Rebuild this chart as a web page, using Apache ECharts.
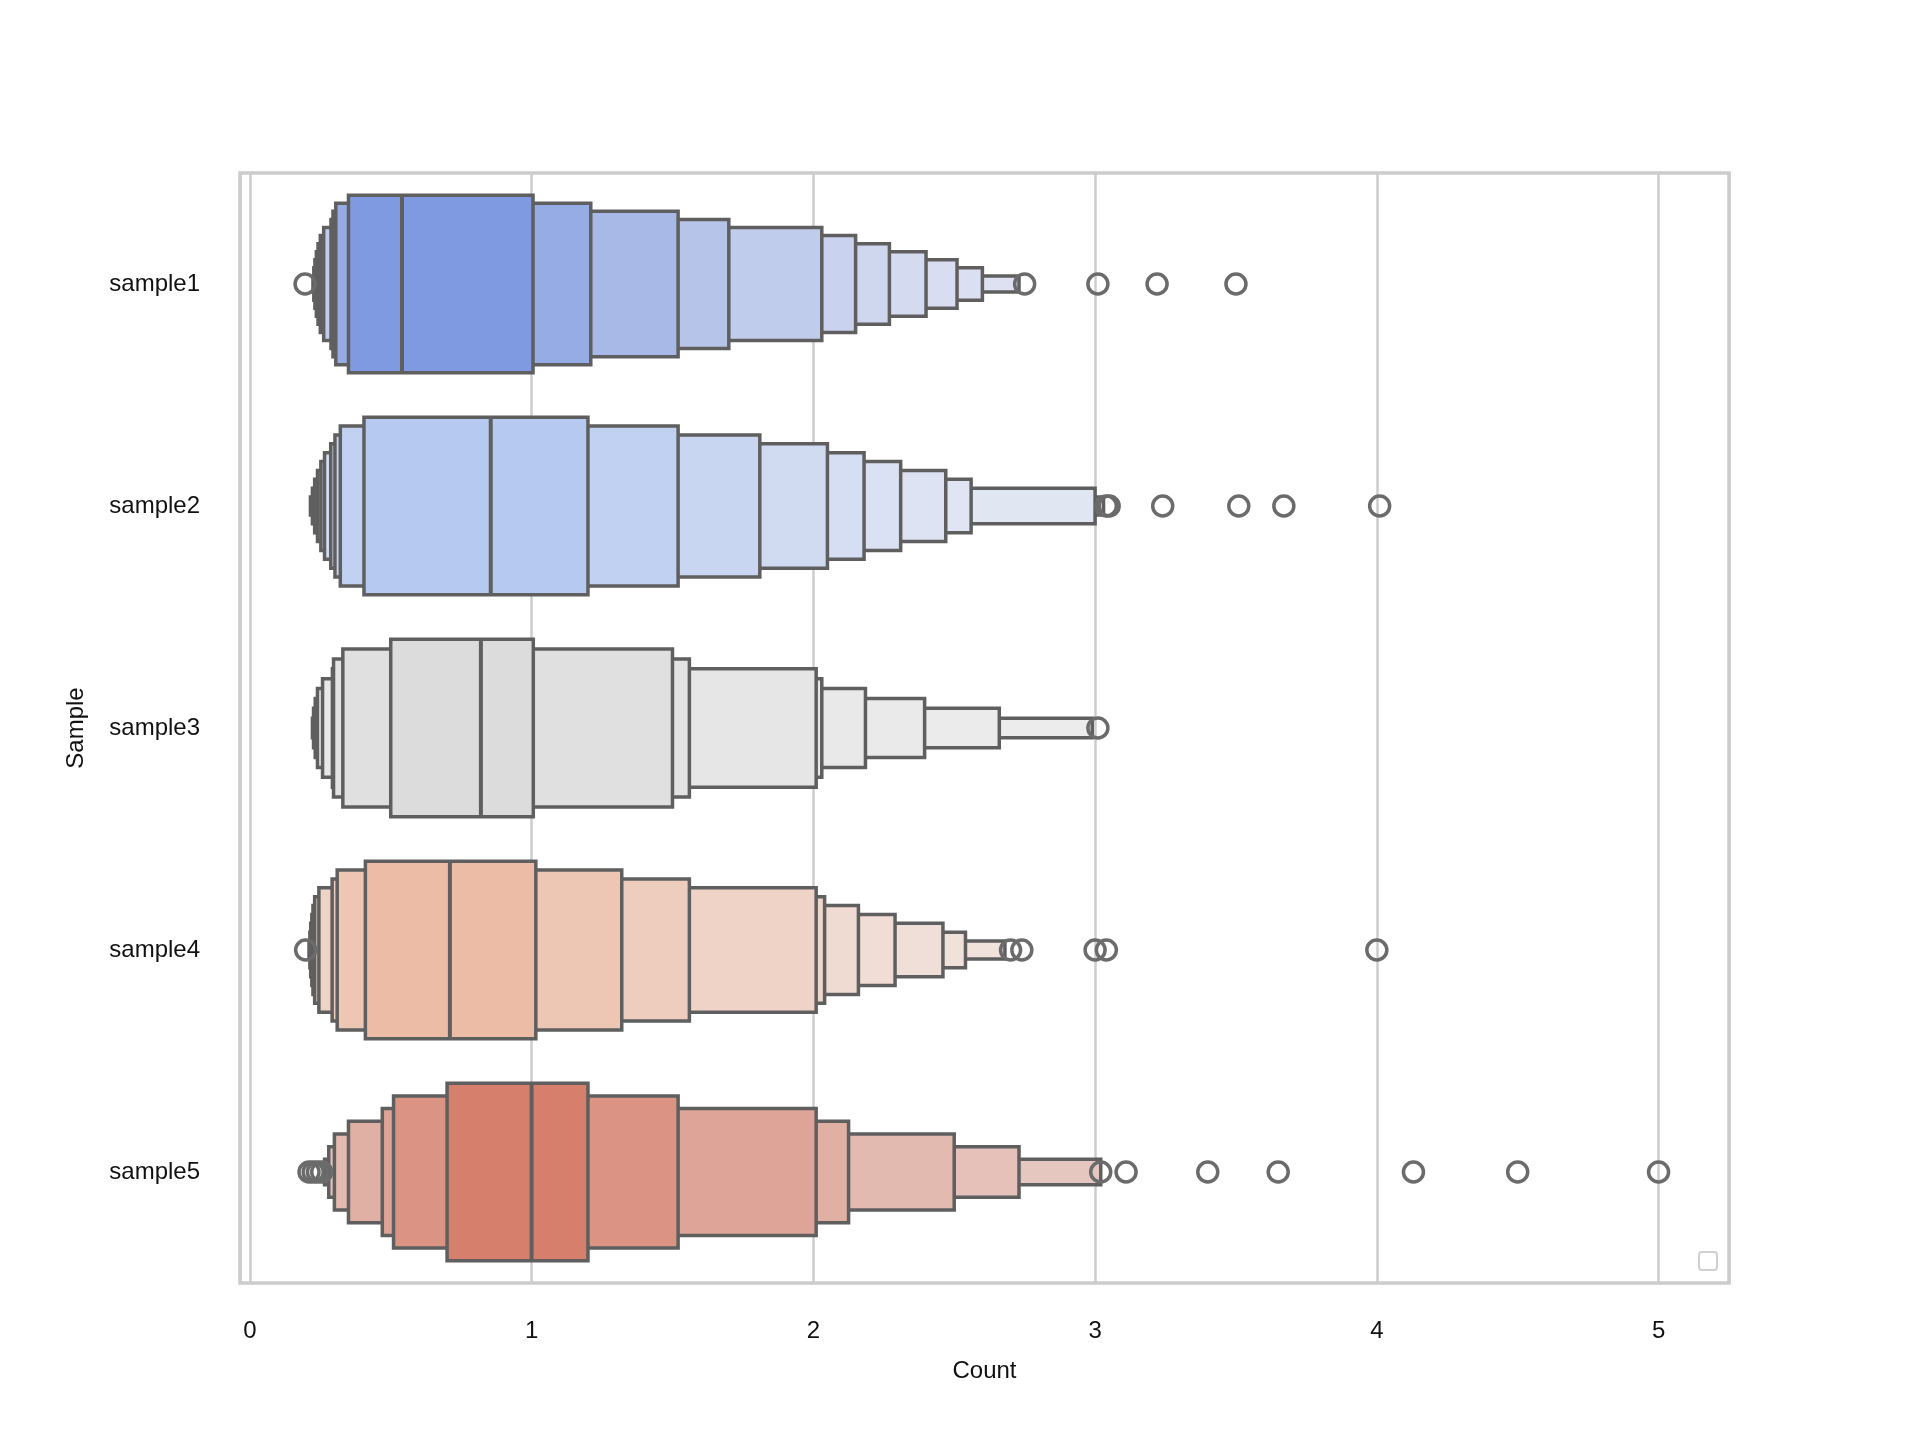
<!DOCTYPE html>
<html>
<head>
<meta charset="utf-8">
<script src="https://cdn.jsdelivr.net/npm/echarts@6/dist/echarts.min.js"></script>
<style>
html, body { margin: 0; padding: 0; background: #fff; }
#main { width: 1920px; height: 1440px; }
</style>
</head>
<body>
<div id="main"></div>
<script>
// letter-value data, level 1 (innermost) first
var categories = ['sample1', 'sample2', 'sample3', 'sample4', 'sample5'];
var xTicks = [0, 1, 2, 3, 4, 5];

var medians = [0.54, 0.855, 0.82, 0.71, 1.0];

var lowerBounds = [
    [0.35, 0.305, 0.295, 0.288, 0.262, 0.250, 0.242, 0.236, 0.231, 0.227, 0.224],
    [0.405, 0.321, 0.302, 0.287, 0.265, 0.252, 0.240, 0.230, 0.222, 0.215],
    [0.50, 0.33, 0.297, 0.293, 0.258, 0.240, 0.232, 0.226, 0.222],
    [0.41, 0.31, 0.292, 0.245, 0.230, 0.224, 0.220, 0.216, 0.213, 0.210],
    [0.70, 0.51, 0.47, 0.35, 0.30, 0.28, 0.265]
];

var upperBounds = [
    [1.005, 1.21, 1.52, 1.70, 2.03, 2.15, 2.27, 2.40, 2.51, 2.60, 2.73],
    [1.20, 1.52, 1.81, 2.05, 2.18, 2.31, 2.47, 2.56, 3.00, 3.03],
    [1.006, 1.50, 1.56, 2.01, 2.03, 2.185, 2.395, 2.66, 2.99],
    [1.015, 1.32, 1.56, 2.01, 2.04, 2.16, 2.29, 2.46, 2.54, 2.68],
    [1.20, 1.52, 2.01, 2.125, 2.50, 2.73, 3.02]
];

var outliers = [
    [0.196, 2.75, 3.01, 3.22, 3.50],
    [3.04, 3.05, 3.24, 3.51, 3.67, 4.01],
    [3.01],
    [0.198, 2.70, 2.74, 3.00, 3.04, 4.00],
    [0.21, 0.225, 0.24, 0.255, 3.02, 3.11, 3.40, 3.65, 4.13, 4.50, 5.00]
];

// colours (coolwarm, desaturated) fading toward a light tint per level
var baseColors = ['#7f9ae0', '#b5c9f1', '#dcdcdc', '#ecbca6', '#d67f6c'];
var lightColors = ['#e4e7f3', '#e7eaf3', '#eeeeee', '#f1e6e2', '#eadad5'];

function hexToRgb(h) {
    return [parseInt(h.substr(1, 2), 16), parseInt(h.substr(3, 2), 16), parseInt(h.substr(5, 2), 16)];
}
function levelColor(s, k) {
    var a = hexToRgb(baseColors[s]), b = hexToRgb(lightColors[s]);
    var f = 1 - Math.pow(0.77, k);
    var c = a.map(function (v, i) { return Math.round(v + (b[i] - v) * f); });
    return 'rgb(' + c.join(',') + ')';
}

// boxes drawn outermost first so the inner ones sit on top
var boxData = [];
for (var s = 0; s < categories.length; s++) {
    var n = lowerBounds[s].length;
    for (var k = n - 1; k >= 0; k--) {
        boxData.push([s, k, lowerBounds[s][k], upperBounds[s][k], n]);
    }
}
var medianData = medians.map(function (m, s) { return [s, m]; });
var outlierData = [];
outliers.forEach(function (arr, s) {
    arr.forEach(function (v) { outlierData.push([v, s]); });
});

var chartDom = document.getElementById('main');
var myChart = echarts.init(chartDom);
var option;

option = {
    animation: false,
    backgroundColor: '#fff',
    textStyle: { fontFamily: 'Liberation Sans, Arial, sans-serif' },
    grid: {
        left: 240,
        right: 191,
        top: 173,
        bottom: 157,
        show: true,
        borderColor: '#cccccc',
        borderWidth: 3.5,
        backgroundColor: 'transparent'
    },
    xAxis: {
        type: 'value',
        min: -0.035,
        max: 5.25,
        name: 'Count',
        nameLocation: 'middle',
        nameGap: 76,
        nameTextStyle: { color: '#111', fontSize: 24 },
        axisLine: { show: false },
        axisTick: { show: false },
        axisLabel: {
            color: '#111',
            fontSize: 24,
            margin: 36,
            showMinLabel: false,
            showMaxLabel: false,
            formatter: function (v) {
                return xTicks.indexOf(v) >= 0 ? String(v) : '';
            }
        },
        splitLine: { show: true, lineStyle: { color: '#cccccc', width: 2.5 } }
    },
    yAxis: {
        type: 'category',
        data: categories,
        inverse: true,
        name: 'Sample',
        nameLocation: 'middle',
        nameGap: 152,
        nameTextStyle: { color: '#111', fontSize: 24 },
        axisLine: { show: false },
        axisTick: { show: false },
        axisLabel: { color: '#111', fontSize: 24, margin: 40 },
        splitLine: { show: false }
    },
    graphic: [{
        type: 'rect',
        left: 1698,
        top: 1251,
        shape: { width: 18, height: 18, r: 3 },
        style: { fill: '#fff', stroke: '#d0d0d0', lineWidth: 2 }
    }],
    series: [{
        name: 'boxes',
        type: 'custom',
        encode: { x: [2, 3], y: 0 },
        data: boxData,
        renderItem: function (params, api) {
            var s = api.value(0), k = api.value(1), n = api.value(4);
            var p0 = api.coord([api.value(2), s]);
            var p1 = api.coord([api.value(3), s]);
            var band = api.size([0, 1])[1];
            var h = band * 0.8 * (n - k) / n;
            return {
                type: 'rect',
                shape: { x: p0[0], y: p0[1] - h / 2, width: p1[0] - p0[0], height: h },
                style: { fill: levelColor(s, k), stroke: '#5f5f5f', lineWidth: 3.5 }
            };
        },
        z: 2
    }, {
        name: 'median',
        type: 'custom',
        encode: { x: 1, y: 0 },
        data: medianData,
        renderItem: function (params, api) {
            var p = api.coord([api.value(1), api.value(0)]);
            var band = api.size([0, 1])[1];
            var h = band * 0.8;
            return {
                type: 'line',
                shape: { x1: p[0], y1: p[1] - h / 2, x2: p[0], y2: p[1] + h / 2 },
                style: { stroke: '#5f5f5f', lineWidth: 4 }
            };
        },
        z: 3
    }, {
        name: 'outliers',
        type: 'scatter',
        data: outlierData,
        symbol: 'circle',
        symbolSize: 20,
        itemStyle: { color: 'rgba(0,0,0,0)', borderColor: '#6b6b6b', borderWidth: 3.5, opacity: 1 },
        z: 4
    }]
};

option && myChart.setOption(option);
</script>
</body>
</html>
